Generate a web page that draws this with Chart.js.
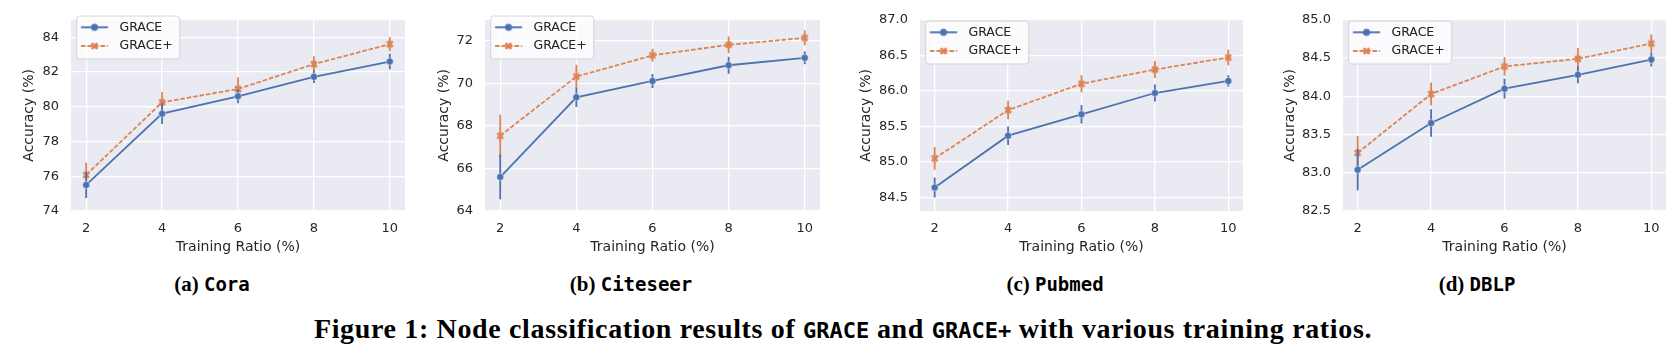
<!DOCTYPE html>
<html>
<head>
<meta charset="utf-8">
<script src="https://cdn.jsdelivr.net/npm/chart.js"></script>
<style>
  body { margin: 0; background: #fff; width: 1679px; height: 354px; position: relative; overflow: hidden; }
  canvas { position: absolute; top: 0; }
  .sub { position: absolute; top: 273px; line-height: 22px; font-size: 21px; font-family: "Liberation Serif"; font-weight: bold; color: #000; white-space: nowrap; transform: translateX(-50%); }
  .mono { font-family: "DejaVu Sans Mono"; font-weight: bold; }
  .sub .mono { font-size: 19px; }
  #figcap { position: absolute; top: 314px; left: 843px; line-height: 30px; font-size: 28px; letter-spacing: 0.65px; font-family: "Liberation Serif"; font-weight: bold; color: #000; white-space: nowrap; transform: translateX(-50%); }
  #figcap .mono { font-size: 22px; letter-spacing: 0; }
</style>
</head>
<body>
<canvas id="cora"></canvas>
<canvas id="citeseer"></canvas>
<canvas id="pubmed"></canvas>
<canvas id="dblp"></canvas>

<div class="sub" style="left:212px">(a) <span class="mono">Cora</span></div>
<div class="sub" style="left:631px">(b) <span class="mono">Citeseer</span></div>
<div class="sub" style="left:1055px">(c) <span class="mono">Pubmed</span></div>
<div class="sub" style="left:1477px">(d) <span class="mono">DBLP</span></div>
<div id="figcap">Figure 1: Node classification results of <span class="mono">GRACE</span> and <span class="mono">GRACE+</span> with various training ratios.</div>

<script>
// data (mean accuracy and error bar half-length)
const ratios = [2, 4, 6, 8, 10];
const seriesNames = ["GRACE", "GRACE+"];

const coraGrace = [75.5, 79.6, 80.6, 81.72, 82.6];
const coraGraceErr = [0.75, 0.6, 0.4, 0.35, 0.45];
const coraPlus = [76.08, 80.25, 81.02, 82.45, 83.6];
const coraPlusErr = [0.7, 0.6, 0.68, 0.45, 0.4];
const coraTicks = [74, 76, 78, 80, 82, 84];

const citeseerGrace = [65.6, 69.35, 70.12, 70.86, 71.21];
const citeseerGraceErr = [1.05, 0.45, 0.33, 0.4, 0.3];
const citeseerPlus = [67.54, 70.33, 71.33, 71.82, 72.15];
const citeseerPlusErr = [1.0, 0.55, 0.3, 0.4, 0.35];
const citeseerTicks = [64, 66, 68, 70, 72];

const pubmedGrace = [84.64, 85.37, 85.67, 85.97, 86.14];
const pubmedGraceErr = [0.14, 0.13, 0.13, 0.12, 0.08];
const pubmedPlus = [85.05, 85.73, 86.1, 86.3, 86.47];
const pubmedPlusErr = [0.16, 0.13, 0.12, 0.12, 0.11];
const pubmedTicks = [84.5, 85.0, 85.5, 86.0, 86.5, 87.0];

const dblpGrace = [83.04, 83.65, 84.1, 84.28, 84.48];
const dblpGraceErr = [0.27, 0.18, 0.13, 0.11, 0.09];
const dblpPlus = [83.26, 84.03, 84.39, 84.49, 84.69];
const dblpPlusErr = [0.22, 0.15, 0.12, 0.14, 0.12];
const dblpTicks = [82.5, 83.0, 83.5, 84.0, 84.5, 85.0];

const blue = "#4C72B0";
const orange = "#DD8452";
const textColor = "#262626";
const font = "DejaVu Sans";

// filled "X" marker like matplotlib's
function drawX(g, cx, cy, s, color) {
  const pts = [[-0.25,-0.5],[0,-0.25],[0.25,-0.5],[0.5,-0.25],[0.25,0],[0.5,0.25],
               [0.25,0.5],[0,0.25],[-0.25,0.5],[-0.5,0.25],[-0.25,0],[-0.5,-0.25]];
  g.fillStyle = color;
  g.beginPath();
  pts.forEach((p, i) => {
    const x = cx + p[0] * s, y = cy + p[1] * s;
    if (i == 0) g.moveTo(x, y); else g.lineTo(x, y);
  });
  g.closePath();
  g.fill();
}
function drawDot(g, cx, cy, r, color) {
  g.fillStyle = color;
  g.beginPath();
  g.arc(cx, cy, r, 0, Math.PI * 2);
  g.fill();
}

const xMarker = document.createElement("canvas");
xMarker.width = 10; xMarker.height = 10;
drawX(xMarker.getContext("2d"), 5, 5, 7.5, orange);

function legendIcon(color, dashed, isX) {
  const c = document.createElement("canvas");
  c.width = 36; c.height = 12;
  const g = c.getContext("2d");
  g.strokeStyle = color;
  g.lineWidth = 1.8;
  if (dashed) g.setLineDash([4.5, 2]);
  g.beginPath(); g.moveTo(3.8, 6); g.lineTo(30.8, 6); g.stroke();
  g.setLineDash([]);
  if (isX) drawX(g, 17.3, 6, 7.5, color); else drawDot(g, 17.3, 6, 3.5, color);
  return c;
}
const legendIcons = [legendIcon(blue, false, false), legendIcon(orange, true, true)];

// plugins
const areaBg = {
  id: "areaBg",
  beforeDraw(chart) {
    const a = chart.chartArea, ctx = chart.ctx;
    ctx.save();
    ctx.fillStyle = "#EAEAF2";
    ctx.fillRect(a.left, a.top, a.right - a.left, a.bottom - a.top);
    ctx.restore();
  }
};

const errBars = {
  id: "errBars",
  beforeDatasetDraw(chart, args) {
    const ds = chart.data.datasets[args.index];
    const ys = chart.scales.y, ctx = chart.ctx;
    ctx.save();
    ctx.strokeStyle = ds.borderColor;
    ctx.lineWidth = 1.8;
    args.meta.data.forEach((pt, i) => {
      const v = ds.data[i].y, e = ds.errors[i];
      ctx.beginPath();
      ctx.moveTo(pt.x, ys.getPixelForValue(v - e));
      ctx.lineTo(pt.x, ys.getPixelForValue(v + e));
      ctx.stroke();
    });
    ctx.restore();
  }
};

function roundBox(ctx, x, y, w, h, r) {
  ctx.beginPath();
  ctx.moveTo(x + r, y);
  ctx.lineTo(x + w - r, y);
  ctx.arcTo(x + w, y, x + w, y + r, r);
  ctx.lineTo(x + w, y + h - r);
  ctx.arcTo(x + w, y + h, x + w - r, y + h, r);
  ctx.lineTo(x + r, y + h);
  ctx.arcTo(x, y + h, x, y + h - r, r);
  ctx.lineTo(x, y + r);
  ctx.arcTo(x, y, x + r, y, r);
  ctx.closePath();
}

// legend frame on top of the lines, then legend again over it
const legendFrame = {
  id: "legendFrame",
  afterDatasetsDraw(chart) {
    const lg = chart.legend, hb = lg.legendHitBoxes, ctx = chart.ctx;
    if (!hb || !hb.length) return;
    const left = hb[0].left - 0.5;
    const top = hb[0].top - 5;
    const last = hb[hb.length - 1];
    const bottom = last.top + last.height + 6.75;
    let right = 0;
    hb.forEach(h => { right = Math.max(right, h.left + h.width); });
    right += 7;
    ctx.save();
    roundBox(ctx, left, top, right - left, bottom - top, 3);
    ctx.fillStyle = "rgba(255,255,255,0.8)";
    ctx.fill();
    ctx.strokeStyle = "rgba(204,204,204,0.8)";
    ctx.lineWidth = 1;
    ctx.stroke();
    ctx.restore();
    lg.draw();
  }
};

function makeChart(id, plotLeft, plotWidth, plotTop, yW, grace, graceErr, plus, plusErr, yMin, yMax, yTicks, decimals) {
  const cv = document.getElementById(id);
  cv.width = yW + plotWidth + 10;
  cv.height = 260;
  cv.style.left = (plotLeft - yW) + "px";

  new Chart(cv, {
    type: "line",
    data: {
      datasets: [{
        label: seriesNames[0],
        data: ratios.map((x, i) => ({ x: x, y: grace[i] })),
        errors: graceErr,
        borderColor: blue,
        backgroundColor: blue,
        borderWidth: 1.8,
        pointRadius: 3.5,
        pointBackgroundColor: blue,
        pointBorderColor: "rgba(255,255,255,0.6)",
        pointBorderWidth: 0.7,
        fill: false
      }, {
        label: seriesNames[1],
        data: ratios.map((x, i) => ({ x: x, y: plus[i] })),
        errors: plusErr,
        borderColor: orange,
        backgroundColor: orange,
        borderWidth: 1.8,
        borderDash: [4.5, 2],
        pointStyle: xMarker,
        fill: false
      }]
    },
    options: {
      responsive: false,
      animation: false,
      layout: { padding: { left: 0, right: 10, top: plotTop, bottom: 0 } },
      scales: {
        x: {
          type: "linear",
          min: 1.6,
          max: 10.4,
          afterFit: s => { s.height = 49; },
          afterBuildTicks: s => { s.ticks = ratios.map(v => ({ value: v })); },
          grid: { color: "#ffffff", lineWidth: 1.3, drawTicks: false },
          border: { display: false },
          ticks: { padding: 10, color: textColor, font: { family: font, size: 13 } },
          title: { display: true, text: "Training Ratio (%)", color: textColor, font: { family: font, size: 14 }, padding: { top: 4, bottom: 4 } }
        },
        y: {
          min: yMin,
          max: yMax,
          afterFit: s => { s.width = yW; },
          afterBuildTicks: s => { s.ticks = yTicks.map(v => ({ value: v })); },
          grid: { color: "#ffffff", lineWidth: 1.3, drawTicks: false },
          border: { display: false },
          ticks: {
            padding: 12, color: textColor, font: { family: font, size: 13 },
            callback: v => decimals ? v.toFixed(1) : v
          },
          title: { display: true, text: "Accuracy (%)", color: textColor, font: { family: font, size: 14 }, padding: { top: 4, bottom: 4 } }
        }
      },
      plugins: {
        tooltip: { enabled: false },
        legend: {
          position: "chartArea",
          align: "start",
          // legend box starts at canvas top, an empty title pushes the items down
          title: { display: true, text: "", font: { size: 1 }, padding: { top: plotTop + 3.65, bottom: 0 } },
          labels: {
            usePointStyle: true,
            pointStyleWidth: 36,
            padding: 6.2,
            color: textColor,
            font: { family: font, size: 12.5 },
            generateLabels: chart => chart.data.datasets.map((ds, i) => ({
              text: ds.label,
              pointStyle: legendIcons[i],
              datasetIndex: i,
              lineWidth: 0,
              hidden: false,
              fontColor: textColor
            }))
          }
        }
      }
    },
    plugins: [areaBg, errBars, legendFrame]
  });
}

makeChart("cora", 71, 334, 10, 54, coraGrace, coraGraceErr, coraPlus, coraPlusErr, 74, 85, coraTicks, false);
makeChart("citeseer", 485, 335, 10, 53, citeseerGrace, citeseerGraceErr, citeseerPlus, citeseerPlusErr, 64, 73, citeseerTicks, false);
makeChart("pubmed", 920, 323, 15, 66, pubmedGrace, pubmedGraceErr, pubmedPlus, pubmedPlusErr, 84.31, 87.0, pubmedTicks, true);
makeChart("dblp", 1343, 323, 15, 65, dblpGrace, dblpGraceErr, dblpPlus, dblpPlusErr, 82.5, 85.0, dblpTicks, true);
</script>
</body>
</html>
